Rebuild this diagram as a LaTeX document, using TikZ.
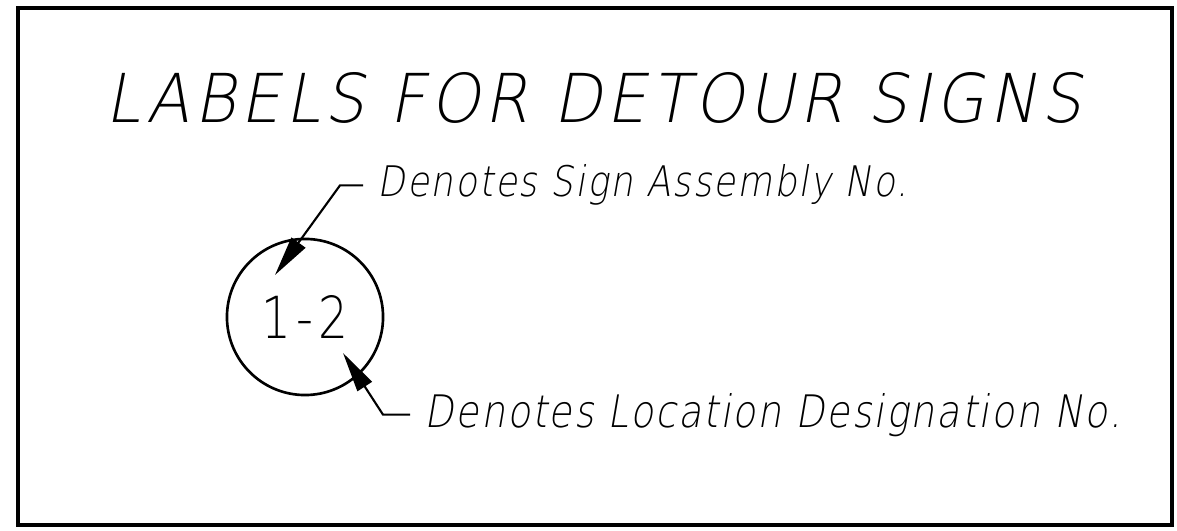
\documentclass[tikz,border=0pt]{standalone}
\usepackage{fontspec}
\setmainfont{Liberation Sans}
\newfontfamily\cadfont{DejaVu Sans ExtraLight}[FakeSlant=0.2, LetterSpace=5]
\newfontfamily\cadtitle{DejaVu Sans ExtraLight}[FakeSlant=0.2, LetterSpace=7]
\newfontfamily\cadupright{DejaVu Sans ExtraLight}[LetterSpace=10]
\usetikzlibrary{arrows.meta}

\tikzstyle{sheet frame}=[line width=1.1pt]
\tikzstyle{callout}=[line width=0.6pt, -{Triangle[length=0.4cm, width=0.17cm]}]
\tikzstyle{note}=[anchor=base west, inner sep=0pt, inner xsep=0.14cm]
\tikzstyle{heading}=[anchor=base west, inner sep=0pt]
\tikzstyle{tag}=[circle, draw, line width=0.75pt, minimum size=1.56cm, inner sep=0pt]

\begin{document}
\begin{tikzpicture}[x=0.01cm, y=-0.01cm]
	\useasboundingbox (0,0) rectangle (1177,531);
	% Border of the sheet
	\draw[sheet frame] (18,8) rectangle (1172,525);

	\node[heading] (title) at (105,123) {\resizebox{9.75cm}{0.5cm}{\cadtitle LABELS FOR DETOUR SIGNS}};

	% Sign label with its two call-outs
	\node[tag] (label) at (305,317) {\resizebox{0.86cm}{0.43cm}{\cadupright 1-2}};

	\node[note] (assembly) at (363,197) {\resizebox{5.3cm}{0.32cm}{\cadfont Denotes Sign Assembly No.}};
	\node[note] (location) at (410,427) {\resizebox{6.96cm}{0.34cm}{\cadfont Denotes Location Designation No.}};

	\coordinate (bend a) at (340,185);
	\coordinate (tip a) at (275,275);
	\coordinate (bend b) at (383,413);
	\coordinate (tip b) at (343,353);

	\draw[callout] (assembly.west) -- (assembly.west -| bend a) -- (tip a);
	\draw[callout] (location.west) -- (location.west -| bend b) -- (tip b);
\end{tikzpicture}
\end{document}
